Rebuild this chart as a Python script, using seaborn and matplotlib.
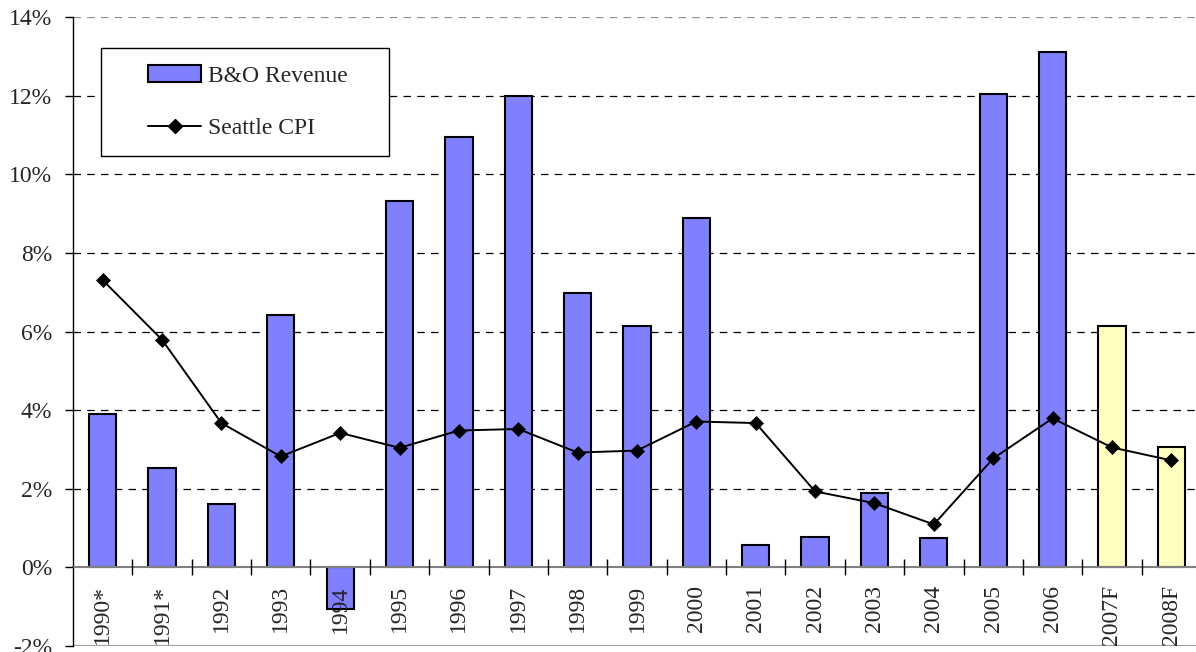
import numpy as np
import seaborn as sns
import matplotlib.pyplot as plt
from matplotlib.patches import Patch, Rectangle
from matplotlib.lines import Line2D

# ---- Data ----
years = ['1990*', '1991*', '1992', '1993', '1994', '1995', '1996', '1997', '1998', '1999',
         '2000', '2001', '2002', '2003', '2004', '2005', '2006', '2007F', '2008F']
bo_revenue = [3.91, 2.53, 1.60, 6.42, -1.07, 9.33, 10.96, 12.0, 6.97, 6.13,
              8.90, 0.56, 0.76, 1.88, 0.74, 12.04, 13.12, 6.13, 3.05]
seattle_cpi = [7.31, 5.79, 3.67, 2.82, 3.42, 3.04, 3.48, 3.52, 2.92, 2.97,
               3.71, 3.67, 1.93, 1.63, 1.09, 2.77, 3.79, 3.05, 2.72]
forecast = ['2007F', '2008F']
y_ticks = [-2, 0, 2, 4, 6, 8, 10, 12, 14]

BLUE = '#8080FF'
YELLOW = '#FFFFC0'

sns.set_style('white')
plt.rcParams['font.family'] = ['Liberation Serif', 'DejaVu Serif']

fig = plt.figure(figsize=(11.96, 6.52), dpi=100)
ax = fig.add_axes([73 / 1196, 0.0095, 1128 / 1196, 0.964])

colors = [YELLOW if y in forecast else BLUE for y in years]
sns.barplot(x=years, y=bo_revenue, hue=years, palette=colors, legend=False,
            width=0.46, saturation=1, edgecolor='black', linewidth=1.5, ax=ax, zorder=2)
sns.lineplot(x=np.arange(len(years)), y=seattle_cpi, color='black', linewidth=1.4,
             marker='D', markersize=7, markeredgecolor='black', markeredgewidth=0.5,
             ax=ax, zorder=3)

# axes limits and ticks
ax.set_xlim(-0.5, len(years) - 0.5)
ax.set_ylim(-2, 14)
ax.set_yticks(y_ticks)
ax.set_yticklabels([f'{t}%' for t in y_ticks], fontsize=17)
ax.tick_params(axis='y', direction='out', length=6, width=1, pad=9, color='black', left=True)

# boundary ticks on the zero line, year labels on minor ticks
ax.set_xticks(np.arange(len(years) - 1) + 0.5)
ax.set_xticklabels([])
ax.tick_params(axis='x', which='major', direction='inout', length=11, width=1,
               color='black', bottom=True)
ax.set_xticks(np.arange(len(years)), minor=True)
ax.set_xticklabels(years, minor=True)
ax.tick_params(axis='x', which='minor', length=0, pad=13, labelsize=17, labelrotation=90)
for lab in ax.get_xticklabels(minor=True):
    lab.set_va('top')
    lab.set_ha('center')
ax.set_xlabel('')
ax.set_ylabel('')

# spines
for s in ['top', 'right']:
    ax.spines[s].set_visible(False)
ax.spines['left'].set_color('black')
ax.spines['left'].set_linewidth(1)
ax.spines['bottom'].set_position(('data', 0))
ax.spines['bottom'].set_color('#808080')
ax.spines['bottom'].set_linewidth(1.5)

# gridlines behind the bars, axis labels above them
ax.set_axisbelow(False)
for val in y_ticks:
    if val > 0:
        ax.axhline(val, color='#909090' if val == 14 else 'black',
                   linestyle=(0, (6, 5)), linewidth=0.9, zorder=1)
ax.axhline(-2, color='#a0a0a0', linewidth=1.5, zorder=1)

# legend
fig.add_artist(Rectangle((101 / 1196, 1 - 156 / 652), 288 / 1196, 108 / 652,
                         transform=fig.transFigure, facecolor='white',
                         edgecolor='black', linewidth=1, zorder=4))
handles = [Patch(facecolor=BLUE, edgecolor='black', linewidth=1.5),
           Line2D([], [], color='black', linewidth=1.4, marker='D', markersize=7)]
leg = fig.legend(handles, ['B&O Revenue', 'Seattle CPI'], loc='center left',
                 bbox_to_anchor=(148 / 1196, 1 - 102 / 652), bbox_transform=fig.transFigure,
                 frameon=False, fontsize=17, handlelength=2.25, handletextpad=0.3,
                 labelspacing=1.3, borderpad=0, borderaxespad=0, numpoints=1)
leg.set_zorder(5)

fig.savefig('out.png', dpi=100)
